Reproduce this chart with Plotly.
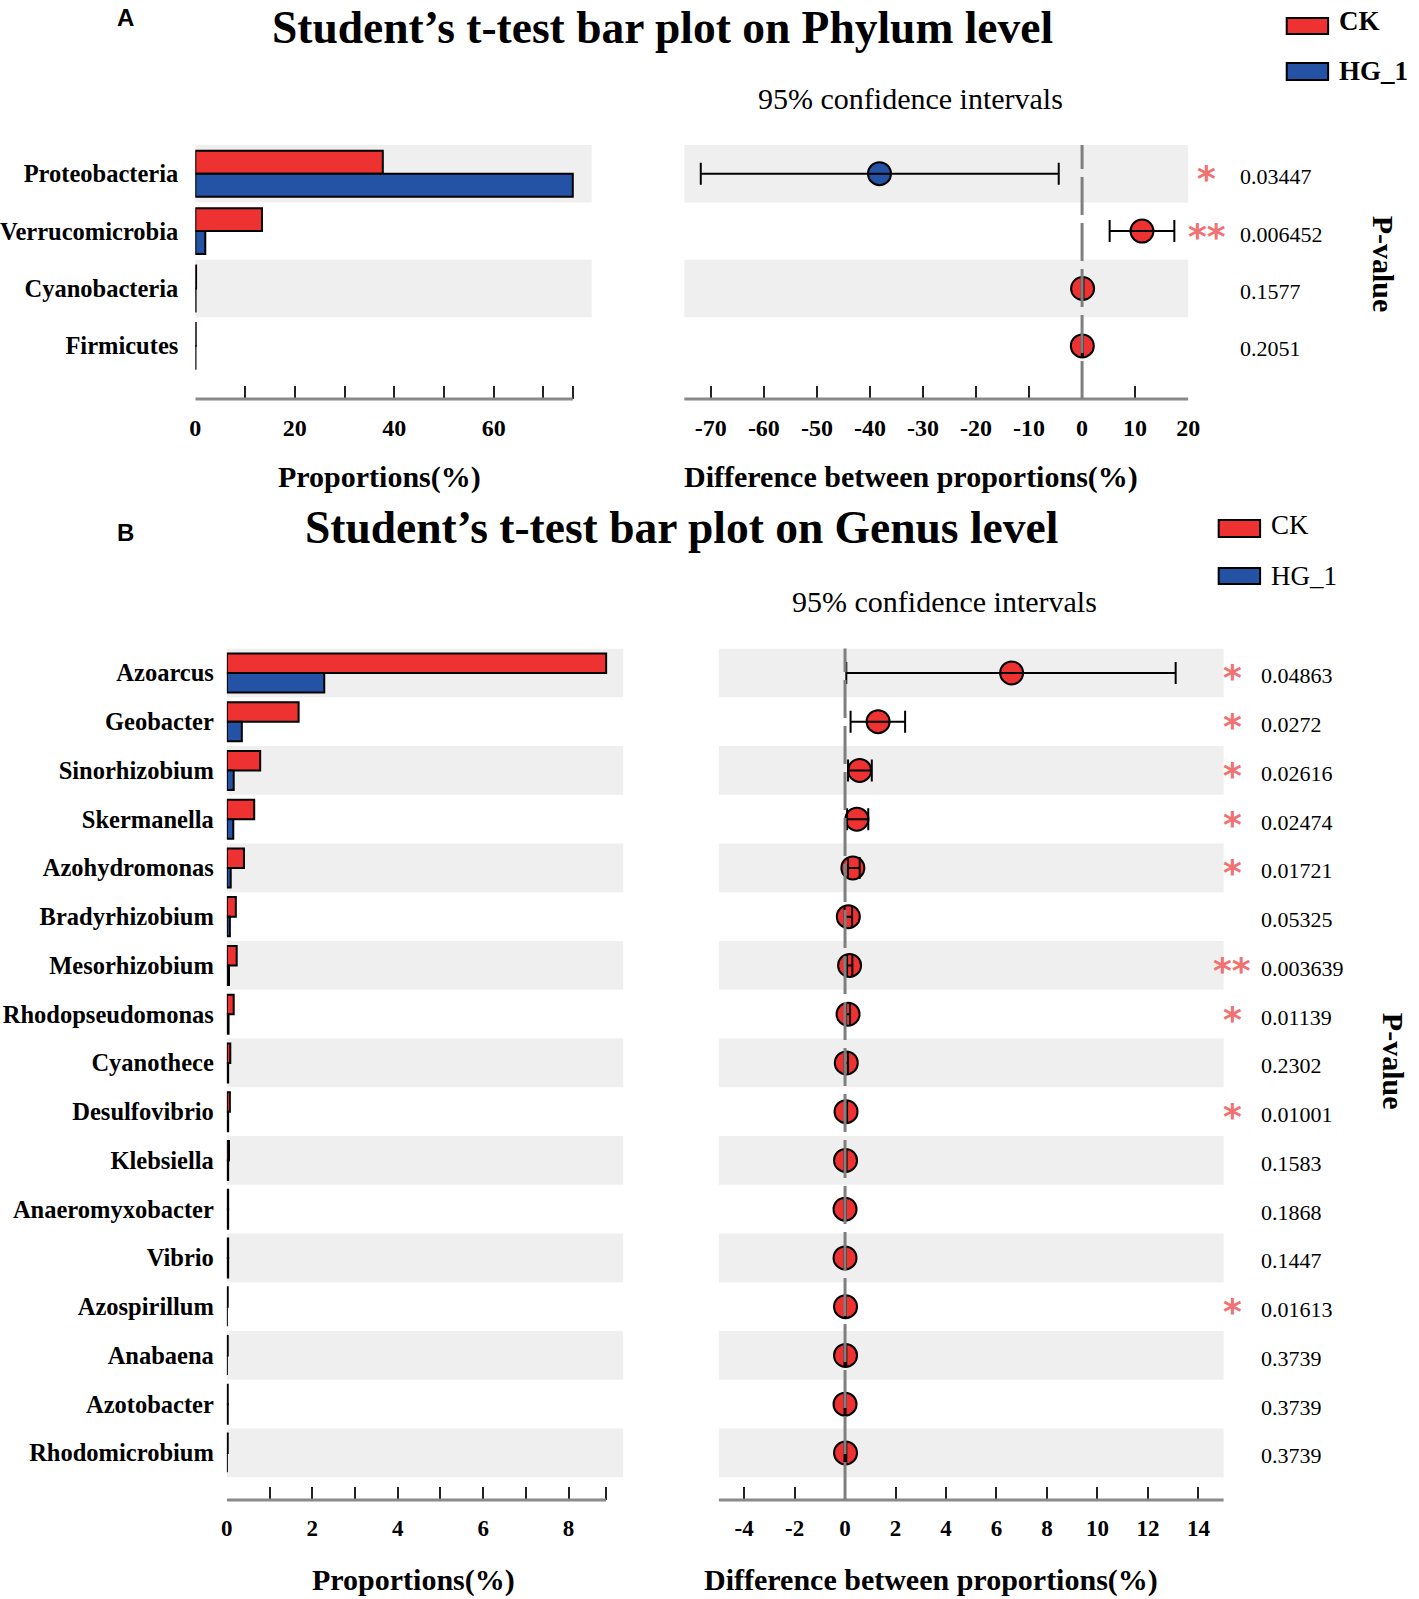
import plotly.graph_objects as go

W, H = 1419, 1599
SERIF = "Liberation Serif"
RED = "#EE3131"
BLUE = "#2453A6"
BAND = "#EFEFEF"
AXGRAY = "#8A8A8A"
STARC = "#F07272"

# ---------------- Panel A : Phylum level ----------------
phylum = ["Proteobacteria", "Verrucomicrobia", "Cyanobacteria", "Firmicutes"]
phylum_ck = [37.7, 13.4, 0.15, 0.08]
phylum_hg = [75.9, 2.0, 0.05, 0.03]
phylum_diff = [-38.2, 11.3, 0.10, 0.05]
phylum_lo = [-71.9, 5.2, -0.05, -0.04]
phylum_hi = [-4.4, 17.4, 0.25, 0.14]
phylum_p = ["0.03447", "0.006452", "0.1577", "0.2051"]

# ---------------- Panel B : Genus level ----------------
genus = ["Azoarcus", "Geobacter", "Sinorhizobium", "Skermanella", "Azohydromonas",
         "Bradyrhizobium", "Mesorhizobium", "Rhodopseudomonas", "Cyanothece",
         "Desulfovibrio", "Klebsiella", "Anaeromyxobacter", "Vibrio", "Azospirillum",
         "Anabaena", "Azotobacter", "Rhodomicrobium"]
genus_ck = [8.88, 1.68, 0.78, 0.64, 0.40, 0.21, 0.23, 0.16, 0.08, 0.07, 0.05,
            0.03, 0.03, 0.02, 0.02, 0.02, 0.02]
genus_hg = [2.28, 0.35, 0.16, 0.15, 0.09, 0.07, 0.05, 0.04, 0.03, 0.03, 0.03,
            0.03, 0.03, 0.0, 0.0, 0.02, 0.0]
genus_diff = [6.6, 1.31, 0.58, 0.47, 0.31, 0.13, 0.18, 0.12, 0.05, 0.04, 0.02,
              0.0, 0.0, 0.02, 0.02, 0.0, 0.02]
genus_lo = [0.05, 0.22, 0.12, 0.08, 0.12, -0.02, 0.08, 0.04, -0.02, 0.01, -0.02,
            -0.02, -0.02, 0.005, -0.02, -0.02, -0.02]
genus_hi = [13.1, 2.38, 1.06, 0.92, 0.58, 0.28, 0.29, 0.20, 0.12, 0.08, 0.06,
            0.03, 0.03, 0.03, 0.05, 0.02, 0.05]
genus_p = ["0.04863", "0.0272", "0.02616", "0.02474", "0.01721", "0.05325",
           "0.003639", "0.01139", "0.2302", "0.01001", "0.1583", "0.1868",
           "0.1447", "0.01613", "0.3739", "0.3739", "0.3739"]

group_names = ["CK", "HG_1"]


def px(x):
    return x / W


def py(y):
    return 1 - y / H


def stars(p):
    v = float(p)
    if v < 0.01:
        return "**"
    if v < 0.05:
        return "*"
    return ""


fig = go.Figure()
shapes = []
annotations = []


def bold(size, color="black", family=SERIF):
    return dict(family=family, size=size, color=color, weight="bold")


def reg(size, color="black", family=SERIF):
    return dict(family=family, size=size, color=color)


def panel(names, ck, hg, diff, lo, hi, pvals, ids, geo):
    xb, yb, xc, yc = ids
    n = len(names)
    # bars
    fig.add_trace(go.Bar(y=names, x=ck, orientation="h", name=group_names[0],
                         marker=dict(color=RED, line=dict(color="black", width=2)),
                         xaxis=xb, yaxis=yb, showlegend=False))
    fig.add_trace(go.Bar(y=names, x=hg, orientation="h", name=group_names[1],
                         marker=dict(color=BLUE, line=dict(color="black", width=2)),
                         xaxis=xb, yaxis=yb, showlegend=False))
    # CI dots
    cols = [RED if d >= 0 else BLUE for d in diff]
    fig.add_trace(go.Scatter(x=diff, y=names, mode="markers",
                             marker=dict(size=geo["dot"], color=cols,
                                         line=dict(color="black", width=2)),
                             xaxis=xc, yaxis=yc, showlegend=False))
    fig.add_trace(go.Scatter(x=diff, y=names, mode="markers",
                             marker=dict(size=1, color="rgba(0,0,0,0)"),
                             error_x=dict(type="data", symmetric=False,
                                          array=[h - d for h, d in zip(hi, diff)],
                                          arrayminus=[d - l for d, l in zip(diff, lo)],
                                          color="black", thickness=2, width=11),
                             xaxis=xc, yaxis=yc, showlegend=False))
    xbn = "x" + xb[1:]
    ybn = "y" + yb[1:]
    xcn = "x" + xc[1:]
    ycn = "y" + yc[1:]
    # bands
    for i in range(0, n, 2):
        for xa, ya in ((xbn, ybn), (xcn, ycn)):
            shapes.append(dict(type="rect", xref=xa + " domain", x0=0, x1=1,
                               yref=ya, y0=i - 0.5, y1=i + 0.5,
                               fillcolor=BAND, line=dict(width=0), layer="below"))
    # bar axis line (only up to max value)
    shapes.append(dict(type="line", xref=xbn, x0=0, x1=max(ck + hg),
                       yref=ybn + " domain", y0=0, y1=0,
                       line=dict(color=AXGRAY, width=3)))
    # CI axis line (full width)
    shapes.append(dict(type="line", xref=xcn + " domain", x0=0, x1=1,
                       yref=ycn + " domain", y0=0, y1=0,
                       line=dict(color=AXGRAY, width=3)))
    # zero dashed line
    shapes.append(dict(type="line", xref=xcn, x0=0, x1=0,
                       yref=ycn + " domain", y0=0, y1=1,
                       line=dict(color="#7F7F7F", width=3, dash="38px,8px"),
                       layer="above"))
    # p-values & stars
    for name, p in zip(names, pvals):
        annotations.append(dict(xref="paper", x=px(geo["pval_x"]), xanchor="left",
                                yref=ycn, y=name, yanchor="middle", yshift=-3,
                                text=p, showarrow=False, font=reg(22)))
        s = stars(p)
        if s:
            annotations.append(dict(xref="paper", x=px(geo["star_x"]), xanchor="center",
                                    yref=ycn, y=name, yanchor="middle", yshift=-5,
                                    text=s, showarrow=False,
                                    font=bold(36, STARC, "DejaVu Sans")))


geoA = dict(dot=23, pval_x=1248, star_x=1216)
geoB = dict(dot=23, pval_x=1269, star_x=1242)

panel(phylum, phylum_ck, phylum_hg, phylum_diff, phylum_lo, phylum_hi, phylum_p,
      ("x", "y", "x2", "y2"), geoA)
panel(genus, genus_ck, genus_hg, genus_diff, genus_lo, genus_hi, genus_p,
      ("x3", "y3", "x4", "y4"), geoB)

# ---------------- axes ----------------
A_top, A_row, A_axis = 145, 57.4, 399
A_extra = (A_axis - (A_top + 4 * A_row)) / A_row
A_ydom = [py(A_axis), py(A_top)]
B_top, B_row, B_axis = 648.5, 48.75, 1500
B_extra = (B_axis - (B_top + 17 * B_row)) / B_row
B_ydom = [py(B_axis), py(B_top)]


def tick_common(size):
    return dict(ticks="inside", ticklen=13, tickwidth=2, tickcolor="#222222",
                showgrid=False, zeroline=False, showline=False,
                tickfont=bold(size), ticklabelstandoff=12)


a_max = max(phylum_ck + phylum_hg)
a_ticks = list(range(0, 71, 10)) + [a_max]
a_text = [str(t) if t % 20 == 0 else "" for t in range(0, 71, 10)] + [""]
fig.update_layout(
    xaxis=dict(domain=[px(190), px(592)], range=[0, a_max * 1.05], anchor="y",
               tickvals=a_ticks, ticktext=a_text, **tick_common(24)),
    yaxis=dict(domain=A_ydom, type="category", categoryorder="array",
               categoryarray=phylum, range=[3.5 + A_extra, -0.5], anchor="x",
               showgrid=False, zeroline=False, ticks="", tickfont=bold(24.5),
               ticklabelstandoff=16),
    xaxis2=dict(domain=[px(686), px(1197)], range=[-75, 20], anchor="y2",
                tickvals=[-75] + list(range(-70, 21, 10)),
                ticktext=[""] + [str(t) for t in range(-70, 21, 10)], **tick_common(24)),
    yaxis2=dict(domain=A_ydom, type="category", categoryorder="array",
                categoryarray=phylum, range=[3.5 + A_extra, -0.5], anchor="x2",
                showgrid=False, zeroline=False, showticklabels=False, ticks=""),
)

b_max = max(genus_ck + genus_hg)
b_ticks = list(range(0, 9)) + [b_max]
b_text = [str(t) if t % 2 == 0 else "" for t in range(0, 9)] + [""]
fig.update_layout(
    xaxis3=dict(domain=[px(222), px(624)], range=[0, b_max * 1.045], anchor="y3",
                tickvals=b_ticks, ticktext=b_text, **tick_common(23)),
    yaxis3=dict(domain=B_ydom, type="category", categoryorder="array",
                categoryarray=genus, range=[16.5 + B_extra, -0.5], anchor="x3",
                showgrid=False, zeroline=False, ticks="", tickfont=bold(24.5),
                ticklabelstandoff=12),
    xaxis4=dict(domain=[px(721), px(1233)], range=[-5, 15], anchor="y4",
                tickvals=[-5] + list(range(-4, 15, 2)) + [15],
                ticktext=[""] + [str(t) for t in range(-4, 15, 2)] + [""],
                **tick_common(23)),
    yaxis4=dict(domain=B_ydom, type="category", categoryorder="array",
                categoryarray=genus, range=[16.5 + B_extra, -0.5], anchor="x4",
                showgrid=False, zeroline=False, showticklabels=False, ticks=""),
)


# ---------------- texts ----------------
def note(x, y, text, font, **kw):
    d = dict(xref="paper", yref="paper", x=px(x), y=py(y), text=text,
             showarrow=False, font=font, xanchor="center", yanchor="middle")
    d.update(kw)
    annotations.append(d)


note(664, 27, "Student’s t-test bar plot on Phylum level", bold(45.5))
note(683, 527, "Student’s t-test bar plot on Genus level", bold(45.5))
note(119, 18, "A", bold(24, family="Liberation Sans"))
note(119, 533, "B", bold(24, family="Liberation Sans"))
note(915, 99, "95% confidence intervals", reg(30))
note(950, 601, "95% confidence intervals", reg(30))
note(377, 477, "Proportions(%)", bold(30))
note(916, 477, "Difference between proportions(%)", bold(30))
note(411, 1580, "Proportions(%)", bold(30))
note(936, 1580, "Difference between proportions(%)", bold(30))
note(1396, 264, "P-value", bold(30), textangle=90)
note(1406, 1061, "P-value", bold(30), textangle=90)


# legends
def legend_box(x0, y0, x1, y1, color, label, y_text, font):
    shapes.append(dict(type="rect", xref="paper", yref="paper",
                       x0=px(x0), x1=px(x1), y0=py(y1), y1=py(y0),
                       fillcolor=color, line=dict(color="black", width=2)))
    note(x1 + 9, y_text, label, font, xanchor="left")


legend_box(1297, 18, 1339, 34, RED, group_names[0], 21, bold(27))
legend_box(1297, 63, 1339, 80, BLUE, group_names[1], 71, bold(27))
legend_box(1228, 520, 1270, 537, RED, group_names[0], 525, reg(27))
legend_box(1228, 568, 1270, 584, BLUE, group_names[1], 576, reg(27))

fig.update_layout(
    width=W, height=H, margin=dict(l=0, r=0, t=0, b=0),
    paper_bgcolor="white", plot_bgcolor="white",
    barmode="group", bargap=0.2, bargroupgap=0,
    showlegend=False, shapes=shapes, annotations=annotations,
)

fig.write_html("out.html", config={"displayModeBar": False},
               post_script="document.body.style.margin='0px';"
                           "document.body.style.overflow='hidden';")
